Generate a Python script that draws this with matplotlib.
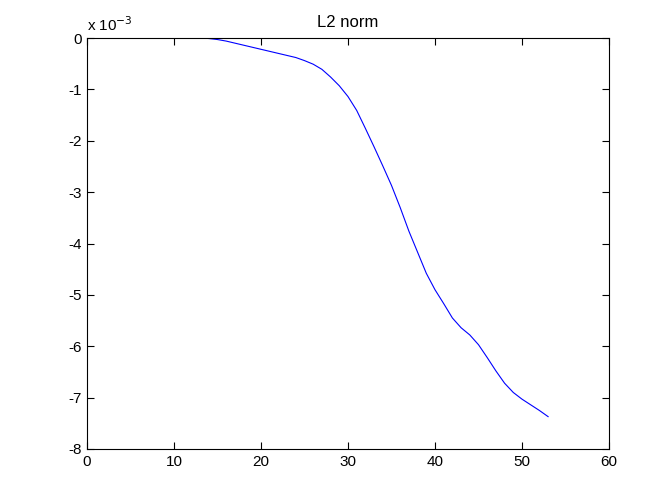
import numpy as np
import matplotlib
matplotlib.use("Agg")
import matplotlib.pyplot as plt
import matplotlib.ticker as mtick

# iteration vs L2 norm (in units of 1e-3)
iters = np.arange(13, 54)
l2_milli = [0.00, -0.01, -0.03, -0.06, -0.10, -0.14, -0.18, -0.22, -0.26, -0.30,
            -0.34, -0.38, -0.44, -0.51, -0.61, -0.76, -0.93, -1.14, -1.41, -1.76,
            -2.12, -2.49, -2.87, -3.30, -3.76, -4.17, -4.58, -4.90, -5.17, -5.45,
            -5.64, -5.78, -5.97, -6.22, -6.48, -6.72, -6.90, -7.03, -7.14, -7.25,
            -7.37]
l2 = np.array(l2_milli) * 1e-3

x_ticks = [0, 10, 20, 30, 40, 50, 60]
y_ticks = [0, -1, -2, -3, -4, -5, -6, -7, -8]

plt.rcParams["font.family"] = ["Liberation Sans", "DejaVu Sans"]

fig = plt.figure(figsize=(6.72, 5.04), dpi=100)
fig.patch.set_facecolor("white")
ax = fig.add_axes([87 / 672, 55 / 504, 522 / 672, 411 / 504])

ax.plot(iters, l2, color="blue", linewidth=0.8)

ax.set_xlim(0, 60)
ax.set_ylim(-8e-3, 0)
ax.set_xticks(x_ticks)
ax.set_yticks([v * 1e-3 for v in y_ticks])
ax.yaxis.set_major_formatter(mtick.FuncFormatter(lambda v, _: f"{v * 1e3:.0f}"))

ax.tick_params(direction="in", length=5, width=0.8, top=True, right=True,
               labelsize=11, colors="black", pad=4)
for s in ax.spines.values():
    s.set_linewidth(0.8)
    s.set_color("black")

ax.set_title("L2 norm", fontsize=12, pad=8)
ax.text(0, 1.01, "x 10$^{-3}$", transform=ax.transAxes, ha="left", va="bottom",
        fontsize=11)

fig.savefig("out.png", dpi=100)
